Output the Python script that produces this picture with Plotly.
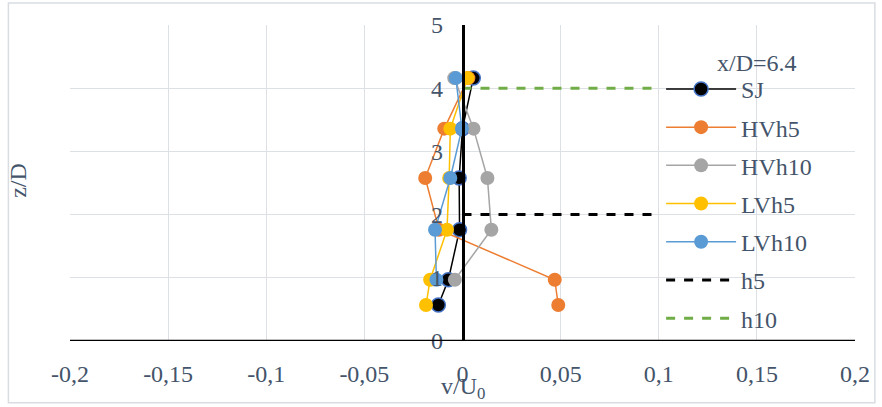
import plotly.graph_objects as go

# ---------------- data ----------------
z_levels = [4.16, 3.36, 2.58, 1.76, 0.97, 0.57]
z_levels5 = [4.16, 3.36, 2.58, 1.76, 0.97]

sj = [0.0055, 0.0, -0.0017, -0.0015, -0.0072, -0.0123]
hvh5 = [0.003, -0.0093, -0.019, -0.012, 0.047, 0.0488]
hvh10 = [-0.0042, 0.0056, 0.0127, 0.0147, -0.0039]
lvh5 = [0.0025, -0.0062, -0.0068, -0.0079, -0.0165, -0.0186]
lvh10 = [-0.0034, -0.0003, -0.0062, -0.014, -0.0133]

h5_x = [0.0, 0.1]
h5_z = [2, 2]
h10_x = [0.0, 0.1]
h10_z = [4, 4]

x_ticks = [-0.2, -0.15, -0.1, -0.05, 0, 0.05, 0.1, 0.15, 0.2]
x_ticktext = ["-0,2", "-0,15", "-0,1", "-0,05", "0", "0,05", "0,1", "0,15", "0,2"]
y_ticks = [0, 1, 2, 3, 4, 5]
y_ticktext = ["0", "1", "2", "3", "4", "5"]
legend_title = "x/D=6.4"

# ---------------- style ----------------
FONT = "Liberation Serif"
TXT = "#44546A"
GRID = "#DDE1E6"
FS = 24

fig = go.Figure()


def add_series(x, z, name, color, edge=None):
    fig.add_trace(go.Scatter(
        x=x, y=z, name=name, mode="lines+markers",
        line=dict(color=color, width=1.5),
        marker=dict(size=14, color=color,
                    line=dict(color=edge if edge else color, width=1.5 if edge else 0)),
        legendgroup=name,
    ))


add_series(sj, z_levels, "SJ", "#000000", edge="#4472C4")
add_series(hvh5, z_levels, "HVh5", "#ED7D31")
add_series(hvh10, z_levels5, "HVh10", "#A5A5A5")
add_series(lvh5, z_levels, "LVh5", "#FFC000")
add_series(lvh10, z_levels5, "LVh10", "#5B9BD5")

fig.add_trace(go.Scatter(x=h5_x, y=h5_z, name="h5", mode="lines",
                         line=dict(color="#000000", width=3, dash="dash"),
                         legendgroup="h5"))
fig.add_trace(go.Scatter(x=h10_x, y=h10_z, name="h10", mode="lines",
                         line=dict(color="#70AD47", width=3, dash="dash"),
                         legendgroup="h10"))

fig.update_layout(
    width=882, height=407,
    margin=dict(l=70, r=22, t=24, b=66),
    paper_bgcolor="white", plot_bgcolor="white",
    font=dict(family=FONT, size=FS, color=TXT),
    showlegend=True,
    legend=dict(
        x=0.753, y=(341 - 66) / 317, xanchor="left", yanchor="top",
        bgcolor="rgba(0,0,0,0)",
        font=dict(family=FONT, size=FS, color=TXT),
        itemwidth=70,
        tracegroupgap=4,
        traceorder="grouped",
    ),
    xaxis=dict(
        range=[-0.2, 0.2], tickvals=x_ticks, ticktext=x_ticktext,
        showgrid=True, gridcolor=GRID, gridwidth=1,
        zeroline=False,
        showline=False,
        ticks="", ticklabelstandoff=16,
        tickfont=dict(family=FONT, size=FS, color=TXT),
        fixedrange=True,
    ),
    yaxis=dict(
        range=[0, 5], tickvals=y_ticks, ticktext=y_ticktext,
        showgrid=True, gridcolor=GRID, gridwidth=1,
        zeroline=False,
        anchor="free", position=0.5,
        showline=True, linecolor="#000000", linewidth=2.5,
        ticks="", ticklabelstandoff=14,
        tickfont=dict(family=FONT, size=FS, color=TXT),
        fixedrange=True,
    ),
    shapes=[
        # x-axis line at z = 0
        dict(type="line", xref="paper", yref="y", x0=0, x1=1, y0=0, y1=0,
             line=dict(color="#000000", width=2.5), layer="above"),
        # chart-area border
        dict(type="rect", xref="paper", yref="paper",
             x0=(8 - 70) / 790, x1=(880 - 70) / 790,
             y0=(341 - 403) / 317, y1=(341 - 2) / 317,
             line=dict(color="#D9DDE2", width=1.5), layer="below"),
    ],
    annotations=[
        dict(text=legend_title, xref="paper", yref="paper",
             x=(761 - 70) / 790, y=(341 - 62) / 317,
             showarrow=False, font=dict(family=FONT, size=FS, color=TXT),
             xanchor="center", yanchor="middle"),
        dict(text="z/D", xref="paper", yref="paper",
             x=(17 - 70) / 790, y=(341 - 180) / 317, textangle=-90,
             showarrow=False, font=dict(family=FONT, size=FS, color=TXT),
             xanchor="center", yanchor="middle"),
        dict(text="v/U<sub>0</sub>", xref="paper", yref="paper",
             x=0.5, y=(341 - 388) / 317, showarrow=False,
             font=dict(family=FONT, size=FS, color=TXT),
             xanchor="center", yanchor="middle"),
    ],
)

fig.write_html("out.html")
